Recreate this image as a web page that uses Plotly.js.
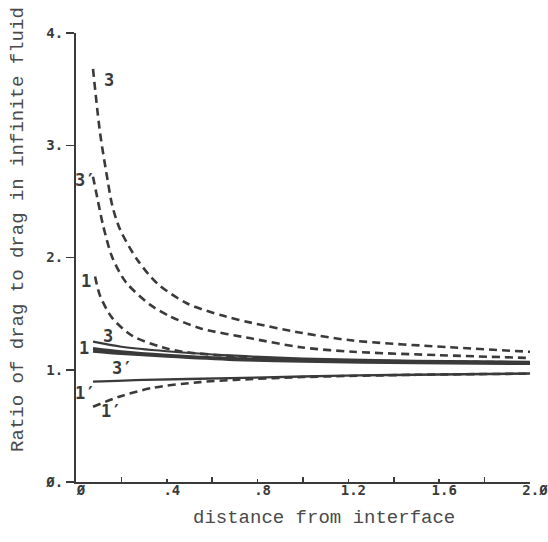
<!DOCTYPE html>
<html>
<head>
<meta charset="utf-8">
<script src="https://cdn.plot.ly/plotly-3.0.1.min.js"></script>
<style>html,body{margin:0;padding:0;background:#fff;}#chart{width:548px;height:542px;}</style>
</head>
<body>
<div id="chart"></div>
<script>
// ---- data ----
const x3dash = [0.075, 0.106, 0.14, 0.16, 0.194, 0.27, 0.357, 0.49, 0.65, 0.77, 0.99, 1.22, 1.65, 2.0];
const y3dash = [3.68, 3.11, 2.68, 2.46, 2.25, 1.98, 1.77, 1.59, 1.48, 1.42, 1.33, 1.26, 1.20, 1.16];

const x3pdash = [0.075, 0.097, 0.12, 0.16, 0.22, 0.326, 0.41, 0.546, 0.77, 0.99, 1.22, 1.6, 2.0];
const y3pdash = [2.72, 2.50, 2.28, 2.00, 1.78, 1.58, 1.48, 1.37, 1.28, 1.20, 1.16, 1.13, 1.105];

const x1dash = [0.084, 0.106, 0.16, 0.25, 0.38, 0.47, 0.7, 1.0, 1.5, 2.0];
const y1dash = [1.83, 1.66, 1.46, 1.30, 1.20, 1.16, 1.12, 1.09, 1.075, 1.065];

const x3solid = [0.075, 0.2, 0.4, 0.7, 1.0, 1.5, 2.0];
const y3solid = [1.25, 1.205, 1.165, 1.125, 1.10, 1.08, 1.07];

const x1solid = [0.075, 0.2, 0.4, 0.7, 1.0, 1.5, 2.0];
const y1solid = [1.19, 1.16, 1.13, 1.10, 1.085, 1.07, 1.062];

const x3psolid = [0.075, 0.2, 0.4, 0.7, 1.0, 1.5, 2.0];
const y3psolid = [1.165, 1.145, 1.12, 1.09, 1.075, 1.062, 1.055];

const x1psolid = [0.075, 0.3, 0.68, 1.0, 1.25, 1.5, 2.0];
const y1psolid = [0.894, 0.91, 0.925, 0.94, 0.95, 0.955, 0.967];

const x1pdash = [0.075, 0.19, 0.34, 0.546, 0.7, 1.0, 1.5, 2.0];
const y1pdash = [0.67, 0.76, 0.84, 0.89, 0.91, 0.935, 0.955, 0.965];

const xTickVals = [0, 0.4, 0.8, 1.2, 1.6, 2.0];
const xTickText = ["Ø", ".4", ".8", "1.2", "1.6", "2.Ø"];
const xMinorVals = [0.2, 0.6, 1.0, 1.4, 1.8];
const yTickVals = [0, 1, 2, 3, 4];
const yTickText = ["Ø.", "1.", "2.", "3.", "4."];

const curveLabels = ["3", "3′", "1", "3", "1", "3′", "1′", "1′"];
const xTitle = "distance from interface";
const yTitle = "Ratio of drag to drag in infinite fluid";

// ---- styles / positions ----
const ink = "#3a3a3a";
const dashStyle = {color: ink, width: 2.6, dash: "8px,5px"};
const labelPos = [[0.145, 3.58], [0.04, 2.69], [0.044, 1.79], [0.141, 1.30],
                  [0.035, 1.19], [0.203, 1.02], [0.04, 0.79], [0.154, 0.63]];

const traces = [
  {x: x3dash, y: y3dash, line: dashStyle},
  {x: x3pdash, y: y3pdash, line: dashStyle},
  {x: x1dash, y: y1dash, line: dashStyle},
  {x: x1pdash, y: y1pdash, line: dashStyle},
  {x: x3solid, y: y3solid, line: {color: ink, width: 2.2}},
  {x: x1solid, y: y1solid, line: {color: ink, width: 3}},
  {x: x3psolid, y: y3psolid, line: {color: ink, width: 3}},
  {x: x1psolid, y: y1psolid, line: {color: ink, width: 2.4}}
].map(t => Object.assign({type: "scatter", mode: "lines", hoverinfo: "skip"}, t,
  {line: Object.assign({shape: "spline", smoothing: 0.8}, t.line)}));

const annotations = curveLabels.map((t, i) => ({
  x: labelPos[i][0], y: labelPos[i][1], xref: "x", yref: "y",
  text: t, showarrow: false,
  font: {family: "DejaVu Sans Mono", size: 17, color: ink, weight: "bold"}
}));
annotations.push({
  xref: "paper", yref: "paper", x: 0.546, y: -0.080, xanchor: "center", yanchor: "middle",
  text: xTitle, showarrow: false,
  font: {family: "Liberation Mono", size: 19, color: "#4a4a4a"}
});
annotations.push({
  xref: "paper", yref: "paper", x: -0.128, y: 0.5635, xanchor: "center", yanchor: "middle",
  text: yTitle, showarrow: false, textangle: -90,
  font: {family: "Liberation Mono", size: 19, color: "#4a4a4a"}
});

const layout = {
  width: 548, height: 542,
  margin: {l: 76, r: 18, t: 33, b: 60},
  paper_bgcolor: "#ffffff", plot_bgcolor: "#ffffff",
  showlegend: false,
  xaxis: {
    range: [0, 2.0], tickvals: xTickVals, ticktext: xTickText,
    showgrid: false, zeroline: false, showline: true, linecolor: ink, linewidth: 2,
    ticks: "inside", ticklen: 3, tickwidth: 1.5, tickcolor: ink,
    ticklabelshift: 5, ticklabelstandoff: -6, ticklabeloverflow: "allow",
    minor: {tickvals: xMinorVals, ticks: "inside", ticklen: 5, tickwidth: 1.5, tickcolor: ink, showgrid: false},
    tickfont: {family: "DejaVu Sans Mono", size: 14, color: "#3a3a3a", weight: "bold"}
  },
  yaxis: {
    range: [0, 4], tickvals: yTickVals, ticktext: yTickText,
    showgrid: false, zeroline: false, showline: true, linecolor: ink, linewidth: 2,
    ticks: "outside", ticklen: 8, tickwidth: 1.5, tickcolor: ink,
    tickfont: {family: "DejaVu Sans Mono", size: 14, color: "#3a3a3a", weight: "bold"}
  },
  annotations: annotations
};

Plotly.newPlot("chart", traces, layout, {staticPlot: true, displayModeBar: false});
</script>
</body>
</html>
